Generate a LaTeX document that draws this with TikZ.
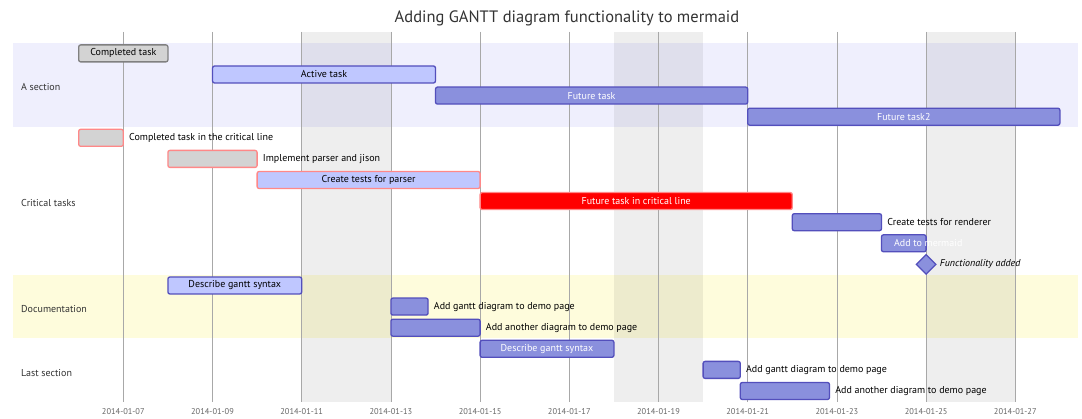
\documentclass[tikz,border=0pt]{standalone}
\usepackage{fontspec}
\setmainfont{PT Sans}
\usetikzlibrary{shapes.geometric}

\definecolor{bandA}{HTML}{EFEFFD}
\definecolor{bandDoc}{HTML}{FEFCDC}
\definecolor{gridcol}{HTML}{A8A8A8}
\definecolor{doneF}{HTML}{D3D3D3}
\definecolor{doneS}{HTML}{808080}
\definecolor{activeF}{HTML}{BFC7FF}
\definecolor{taskS}{HTML}{534FBC}
\definecolor{taskF}{HTML}{8A90DD}
\definecolor{critS}{HTML}{FF8888}
\definecolor{critF}{HTML}{FF0000}
\definecolor{titlecol}{HTML}{333333}
\definecolor{axiscol}{HTML}{666666}

% x position of a day in January 2014
\newcommand{\dayx}[1]{78.7+44.6*(#1-6)}

% a task bar: style, name, row, start day, end day, text inside
\newcommand{\gtask}[6]{%
  \pgfmathsetmacro{\tw}{44.6*(#5-#4)}%
  \pgfmathsetmacro{\tx}{78.7+44.6*((#4+#5)/2-6)}%
  \pgfmathsetmacro{\ty}{53.4+21.1*#3}%
  \node[#1, minimum width=\tw pt] (#2) at (\tx,\ty) {#6};%
}

\begin{document}
\begin{tikzpicture}[x=1pt, y=-1pt,
  font=\fontsize{10}{12}\selectfont,
  taskbox/.style={rectangle, rounded corners=2pt, minimum height=17pt,
    inner sep=0pt, line width=1.3pt},
  tdone/.style={taskbox, fill=doneF, draw=doneS, text=black},
  tactive/.style={taskbox, fill=activeF, draw=taskS, text=black},
  tfuture/.style={taskbox, fill=taskF, draw=taskS, text=white},
  tcritdone/.style={taskbox, fill=doneF, draw=critS, text=black},
  tcritactive/.style={taskbox, fill=activeF, draw=critS, text=black},
  tcrit/.style={taskbox, fill=critF, draw=critS, text=white},
  outlbl/.style={anchor=west, inner sep=0pt, text=black},
  seclbl/.style={anchor=west, inner sep=0pt, text=titlecol},
  gridline/.style={draw=gridcol, line width=0.8pt},
  weekend/.style={fill=black, fill opacity=0.065},
  axislbl/.style={text=axiscol, font=\fontsize{8.4}{10}\selectfont},
  milestone/.style={diamond, aspect=1, minimum width=20pt, minimum height=20pt,
    inner sep=0pt, fill=taskF, draw=taskS, line width=1.3pt}
]
\path[use as bounding box, fill=white] (0,0) rectangle (1082,419);

% section bands
\fill[bandA] (12.7,42.9) rectangle (1078,127.3);
\fill[bandDoc] (12.7,274.9) rectangle (1078,338.2);

% excluded weekends
\foreach \s in {11,18,25}
  \fill[weekend] ({\dayx{\s}},32) rectangle ({\dayx{\s+2}},402);

% grid and date axis
\foreach \d in {7,9,...,27} {
  \draw[gridline] ({\dayx{\d}},32) -- ({\dayx{\d}},402);
  \node[axislbl] (ax\d) at ({\dayx{\d}},412) {2014-01-\ifnum\d<10 0\fi\d};
}

% title
\node[font=\fontsize{16.5}{19}\selectfont, text=titlecol] (title) at (567,18)
  {Adding GANTT diagram functionality to mermaid};

% section names
\node[seclbl] (secA) at (21,87) {A section};
\node[seclbl] (secCrit) at (21,203.5) {Critical tasks};
\node[seclbl] (secDoc) at (21,309) {Documentation};
\node[seclbl] (secLast) at (21,373) {Last section};

% A section
\gtask{tdone}{des1}{0}{6}{8}{Completed task}
\gtask{tactive}{des2}{1}{9}{14}{Active task}
\gtask{tfuture}{des3}{2}{14}{21}{Future task}
\gtask{tfuture}{des4}{3}{21}{28}{Future task2}

% Critical tasks
\gtask{tcritdone}{c1}{4}{6}{7}{}
\node[outlbl] (c1l) at ([xshift=5pt]c1.east) {Completed task in the critical line};
\gtask{tcritdone}{c2}{5}{8}{10}{}
\node[outlbl] (c2l) at ([xshift=5pt]c2.east) {Implement parser and jison};
\gtask{tcritactive}{c3}{6}{10}{15}{Create tests for parser}
\gtask{tcrit}{c4}{7}{15}{22}{Future task in critical line}
\gtask{tfuture}{c5}{8}{22}{24}{}
\node[outlbl] (c5l) at ([xshift=5pt]c5.east) {Create tests for renderer};
\gtask{tfuture}{c6}{9}{24}{25}{}
\node[outlbl, text=white] (c6l) at ([xshift=13pt]c6.west) {Add to mermaid};
\node[milestone] (m1) at ({\dayx{25}},264.4) {};
\node[outlbl, font=\fontsize{10}{12}\selectfont\itshape] (m1l) at ([xshift=3pt]m1.east) {Functionality added};

% Documentation
\gtask{tactive}{a1}{11}{8}{11}{Describe gantt syntax}
\gtask{tfuture}{d2}{12}{13}{13.8333}{}
\node[outlbl] (d2l) at ([xshift=5pt]d2.east) {Add gantt diagram to demo page};
\gtask{tfuture}{doc1}{13}{13}{15}{}
\node[outlbl] (doc1l) at ([xshift=5pt]doc1.east) {Add another diagram to demo page};

% Last section
\gtask{tfuture}{l1}{14}{15}{18}{Describe gantt syntax}
\gtask{tfuture}{l2}{15}{20}{20.8333}{}
\node[outlbl] (l2l) at ([xshift=5pt]l2.east) {Add gantt diagram to demo page};
\gtask{tfuture}{l3}{16}{20.8333}{22.8333}{}
\node[outlbl] (l3l) at ([xshift=5pt]l3.east) {Add another diagram to demo page};
\end{tikzpicture}
\end{document}
